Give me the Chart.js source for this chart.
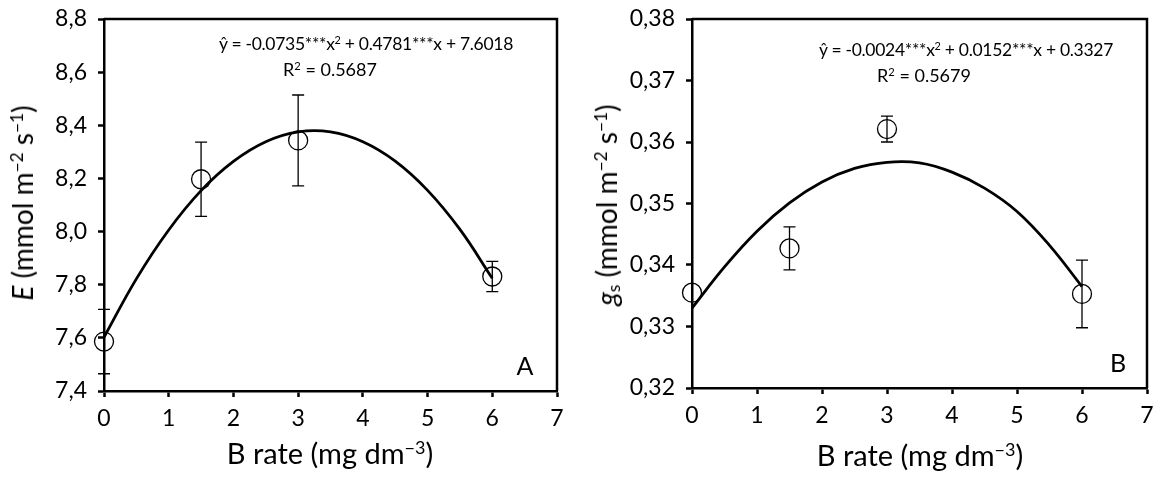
<!DOCTYPE html>
<html>
<head>
<meta charset="utf-8">
<script src="https://cdn.jsdelivr.net/npm/chart.js@4.4.0/dist/chart.umd.min.js"></script>
<style>
    body { margin: 0; background: #fff; }
    #wrap { position: relative; width: 1161px; height: 486px; font-family: Lato, "Open Sans", sans-serif; color: #000; }
    .box { position: absolute; top: 0; height: 486px; }
    .txt { position: absolute; white-space: nowrap; line-height: 1; }
    .rot { transform: translate(-50%, -50%) rotate(-90deg); }
    .ctr { transform: translate(-50%, -50%); }
    .eq { letter-spacing: -0.3px; }
    sup { font-size: 0.62em; vertical-align: 0.55em; line-height: 0; }
    sub { font-size: 0.62em; vertical-align: -0.2em; line-height: 0; }
</style>
</head>
<body>
<div id="wrap">
    <div class="box" style="left:0;width:580px"><canvas id="chartA" width="580" height="486"></canvas></div>
    <div class="box" style="left:580px;width:581px"><canvas id="chartB" width="581" height="486"></canvas></div>

    <div class="txt rot" style="left:22px;top:203px;font-size:28px"><i>E</i> (mmol m<sup>−2</sup> s<sup>−1</sup>)</div>
    <div class="txt ctr" style="left:330px;top:452px;font-size:29px">B rate (mg dm<sup>−3</sup>)</div>
    <div class="txt ctr eq" style="left:366px;top:44px;font-size:17.5px">ŷ = -0.0735***x<sup>2</sup> + 0.4781***x + 7.6018</div>
    <div class="txt ctr" style="left:330px;top:69px;font-size:18px">R<sup>2</sup> = 0.5687</div>
    <div class="txt ctr" style="left:525px;top:365px;font-size:25px">A</div>

    <div class="txt rot" style="left:606px;top:205px;font-size:28px"><i>g</i><sub>s</sub> (mmol m<sup>−2</sup> s<sup>−1</sup>)</div>
    <div class="txt ctr" style="left:920px;top:454px;font-size:29px">B rate (mg dm<sup>−3</sup>)</div>
    <div class="txt ctr eq" style="left:966px;top:50px;font-size:17.5px">ŷ = -0.0024***x<sup>2</sup> + 0.0152***x + 0.3327</div>
    <div class="txt ctr" style="left:924px;top:75px;font-size:18px">R<sup>2</sup> = 0.5679</div>
    <div class="txt ctr" style="left:1118px;top:362px;font-size:25px">B</div>
</div>

<script>
// B rates and measured means with error bars
var rates = [0, 1.5, 3, 6];
var eMean = [7.586, 8.197, 8.343, 7.831];
var eErr = [0.121, 0.14, 0.171, 0.057];
var gsMean = [0.3355, 0.3427, 0.3621, 0.3353];
var gsErr = [0, 0.0035, 0.0021, 0.0055];

// fitted curves
var fitX = [0, 0.5, 1, 1.5, 2, 2.5, 3, 3.5, 4, 4.5, 5, 5.5, 6];
var eFit = [7.602, 7.822, 8.006, 8.154, 8.264, 8.338, 8.375, 8.375, 8.338, 8.265, 8.155, 8.008, 7.824];
var gsFit = [0.3330, 0.3397, 0.3455, 0.3501, 0.3535, 0.3557, 0.3567, 0.3566, 0.3551, 0.3525, 0.3487, 0.3432, 0.3365];

// tick labels
var xTicks = [0, 1, 2, 3, 4, 5, 6, 7];
var eTickVals = [7.4, 7.6, 7.8, 8.0, 8.2, 8.4, 8.6, 8.8];
var eTickLabels = ['7,4', '7,6', '7,8', '8,0', '8,2', '8,4', '8,6', '8,8'];
var gsTickVals = [0.32, 0.33, 0.34, 0.35, 0.36, 0.37, 0.38];
var gsTickLabels = ['0,32', '0,33', '0,34', '0,35', '0,36', '0,37', '0,38'];

var FONT = 'Lato, "Open Sans", sans-serif';

// error bars + frame around the plot area
var extrasPlugin = {
    id: 'extras',
    afterDatasetsDraw: function (chart, args, opts) {
        var ctx = chart.ctx;
        var xs = chart.scales.x, ys = chart.scales.y;
        ctx.save();
        ctx.strokeStyle = '#000';
        ctx.lineWidth = 1.3;
        opts.xs.forEach(function (x, i) {
            if (!opts.errs[i]) return;
            var px = xs.getPixelForValue(x);
            var top = ys.getPixelForValue(opts.means[i] + opts.errs[i]);
            var bot = ys.getPixelForValue(opts.means[i] - opts.errs[i]);
            ctx.beginPath();
            ctx.moveTo(px, top); ctx.lineTo(px, bot);
            ctx.moveTo(px - 6, top); ctx.lineTo(px + 6, top);
            ctx.moveTo(px - 6, bot); ctx.lineTo(px + 6, bot);
            ctx.stroke();
        });
        var a = chart.chartArea;
        ctx.lineWidth = 2.5;
        ctx.beginPath();
        ctx.moveTo(a.left, a.top); ctx.lineTo(a.right, a.top); ctx.lineTo(a.right, a.bottom);
        ctx.stroke();
        ctx.restore();
    }
};

function makeChart(id, means, errs, fit, tickVals, tickLabels, pad, xAxisH, yAxisW) {
    return new Chart(document.getElementById(id), {
        type: 'scatter',
        data: {
            datasets: [{
                type: 'line',
                data: fitX.map((x, i) => ({ x: x, y: fit[i] })),
                borderColor: '#000',
                borderWidth: 2.8,
                pointRadius: 0,
                tension: 0.4,
                fill: false,
                clip: false
            }, {
                data: rates.map((x, i) => ({ x: x, y: means[i] })),
                pointStyle: 'circle',
                pointRadius: 9.5,
                pointBorderWidth: 1.3,
                borderColor: '#000',
                backgroundColor: 'rgba(0,0,0,0)',
                clip: false
            }]
        },
        options: {
            responsive: false,
            animation: false,
            layout: { padding: pad },
            plugins: {
                legend: { display: false },
                tooltip: { enabled: false },
                extras: { xs: rates, means: means, errs: errs }
            },
            scales: {
                x: {
                    type: 'linear',
                    min: 0, max: 7,
                    afterBuildTicks: function (s) { s.ticks = xTicks.map(v => ({ value: v })); },
                    afterFit: function (s) { s.height = xAxisH; s.paddingLeft = 0; s.paddingRight = 0; },
                    ticks: { color: '#000', font: { family: FONT, size: 23 }, padding: 8 },
                    grid: { drawOnChartArea: false, tickLength: 6, tickColor: '#000', tickWidth: 2.5 },
                    border: { display: true, color: '#000', width: 2.5 }
                },
                y: {
                    min: tickVals[0], max: tickVals[tickVals.length - 1],
                    afterBuildTicks: function (s) { s.ticks = tickVals.map(v => ({ value: v })); },
                    afterFit: function (s) { s.width = yAxisW; s.paddingTop = 0; s.paddingBottom = 0; },
                    ticks: {
                        color: '#000', font: { family: FONT, size: 23 }, padding: 11,
                        callback: function (v, i) { return tickLabels[i]; }
                    },
                    grid: { drawOnChartArea: false, tickLength: 6, tickColor: '#000', tickWidth: 2.5 },
                    border: { display: true, color: '#000', width: 2.5 }
                }
            }
        },
        plugins: [extrasPlugin]
    });
}

makeChart('chartA', eMean, eErr, eFit, eTickVals, eTickLabels,
    { top: 19, right: 23, bottom: 0, left: 0 }, 95, 104);
makeChart('chartB', gsMean, gsErr, gsFit, gsTickVals, gsTickLabels,
    { top: 19, right: 14, bottom: 0, left: 0 }, 98, 112);
</script>
</body>
</html>
